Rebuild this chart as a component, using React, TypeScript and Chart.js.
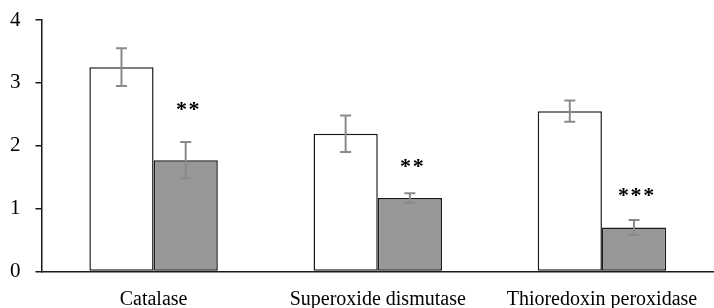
import React, { useEffect, useRef } from "react";
import { Chart, registerables } from "chart.js";

Chart.register(...registerables);

const categories = ["Catalase", "Superoxide dismutase", "Thioredoxin peroxidase"];
const controlValues = [3.25, 2.19, 2.55];
const controlErrors = [0.3, 0.29, 0.17];
const treatedValues = [1.77, 1.17, 0.7];
const treatedErrors = [0.29, 0.075, 0.12];
const significance = ["**", "**", "***"];
const significanceLevels = [2.63, 1.72, 1.26];
const yTicks = [0, 1, 2, 3, 4];

const FONT = "'Liberation Serif', 'Times New Roman', serif";

const errorBarPlugin = {
  id: "errorBars",
  afterDatasetsDraw(chart: any) {
    const ctx = chart.ctx;
    const y = chart.scales.y;
    const errs = [controlErrors, treatedErrors];
    ctx.save();
    chart.data.datasets.forEach((ds: any, di: number) => {
      const meta = chart.getDatasetMeta(di);
      meta.data.forEach((bar: any, i: number) => {
        const v = ds.data[i];
        const e = errs[di][i];
        const top = y.getPixelForValue(v + e);
        const bot = y.getPixelForValue(v - e);
        const x = bar.x;
        ctx.strokeStyle = "#8a8a8a";
        ctx.lineWidth = 2;
        ctx.beginPath();
        ctx.moveTo(x, top);
        ctx.lineTo(x, bot);
        ctx.moveTo(x - 5.5, top);
        ctx.lineTo(x + 5.5, top);
        ctx.moveTo(x - 5.5, bot);
        ctx.lineTo(x + 5.5, bot);
        ctx.stroke();
        if (di === 1) {
          ctx.fillStyle = "#000";
          ctx.font = `bold 22px ${FONT}`;
          ctx.textAlign = "center";
          ctx.textBaseline = "alphabetic";
          const m = ctx.measureText("*");
          const asc = m.actualBoundingBoxAscent || 14;
          const desc = m.actualBoundingBoxDescent || -5;
          const cy = y.getPixelForValue(significanceLevels[i]);
          const baseline = cy + (asc - desc) / 2;
          const s = significance[i];
          const step = 12.6;
          const start = x + 2 - ((s.length - 1) * step) / 2;
          for (let k = 0; k < s.length; k++) {
            ctx.fillText("*", start + k * step, baseline);
          }
        }
      });
    });
    ctx.restore();
  },
};

export default function App() {
  const ref = useRef<HTMLCanvasElement>(null);
  useEffect(() => {
    if (!ref.current) return;
    const chart = new Chart(ref.current, {
      type: "bar",
      data: {
        labels: categories,
        datasets: [
          {
            label: "Control",
            data: controlValues,
            backgroundColor: "#ffffff",
            borderColor: "#1a1a1a",
            borderWidth: 1.5,
            borderSkipped: false,
          },
          {
            label: "Treated",
            data: treatedValues,
            backgroundColor: "#989898",
            borderColor: "#1a1a1a",
            borderWidth: 1.5,
            borderSkipped: false,
          },
        ],
      },
      options: {
        animation: false,
        responsive: false,
        maintainAspectRatio: false,
        layout: { padding: { top: 20, right: -8, left: 10, bottom: 0 } },
        datasets: { bar: { categoryPercentage: 0.573, barPercentage: 1 } },
        plugins: { legend: { display: false }, tooltip: { enabled: false } },
        scales: {
          x: {
            grid: { display: false },
            border: { display: true, color: "#1a1a1a", width: 1.5 },
            ticks: { color: "#000", font: { family: FONT, size: 20 }, padding: 8, maxRotation: 0, autoSkip: false },
            afterFit: (s: any) => { s.height = 36.5; },
          },
          y: {
            min: 0,
            max: 4,
            afterBuildTicks: (s: any) => { s.ticks = yTicks.map((v) => ({ value: v })); },
            grid: { display: true, drawOnChartArea: false, drawTicks: true, tickLength: 6, color: "#1a1a1a", lineWidth: 1.5 },
            border: { display: true, color: "#1a1a1a", width: 1.5 },
            ticks: { color: "#000", font: { family: FONT, size: 21 }, padding: 0, crossAlign: "far" },
            afterFit: (s: any) => { s.width = 31.5; },
          },
        },
      },
      plugins: [errorBarPlugin],
    });
    return () => chart.destroy();
  }, []);
  return (
    <div style={{ position: "fixed", left: 0, top: 0, width: 714, height: 308, background: "#fff" }}>
      <canvas ref={ref} width={714} height={308} style={{ width: 714, height: 308 }} />
    </div>
  );
}
